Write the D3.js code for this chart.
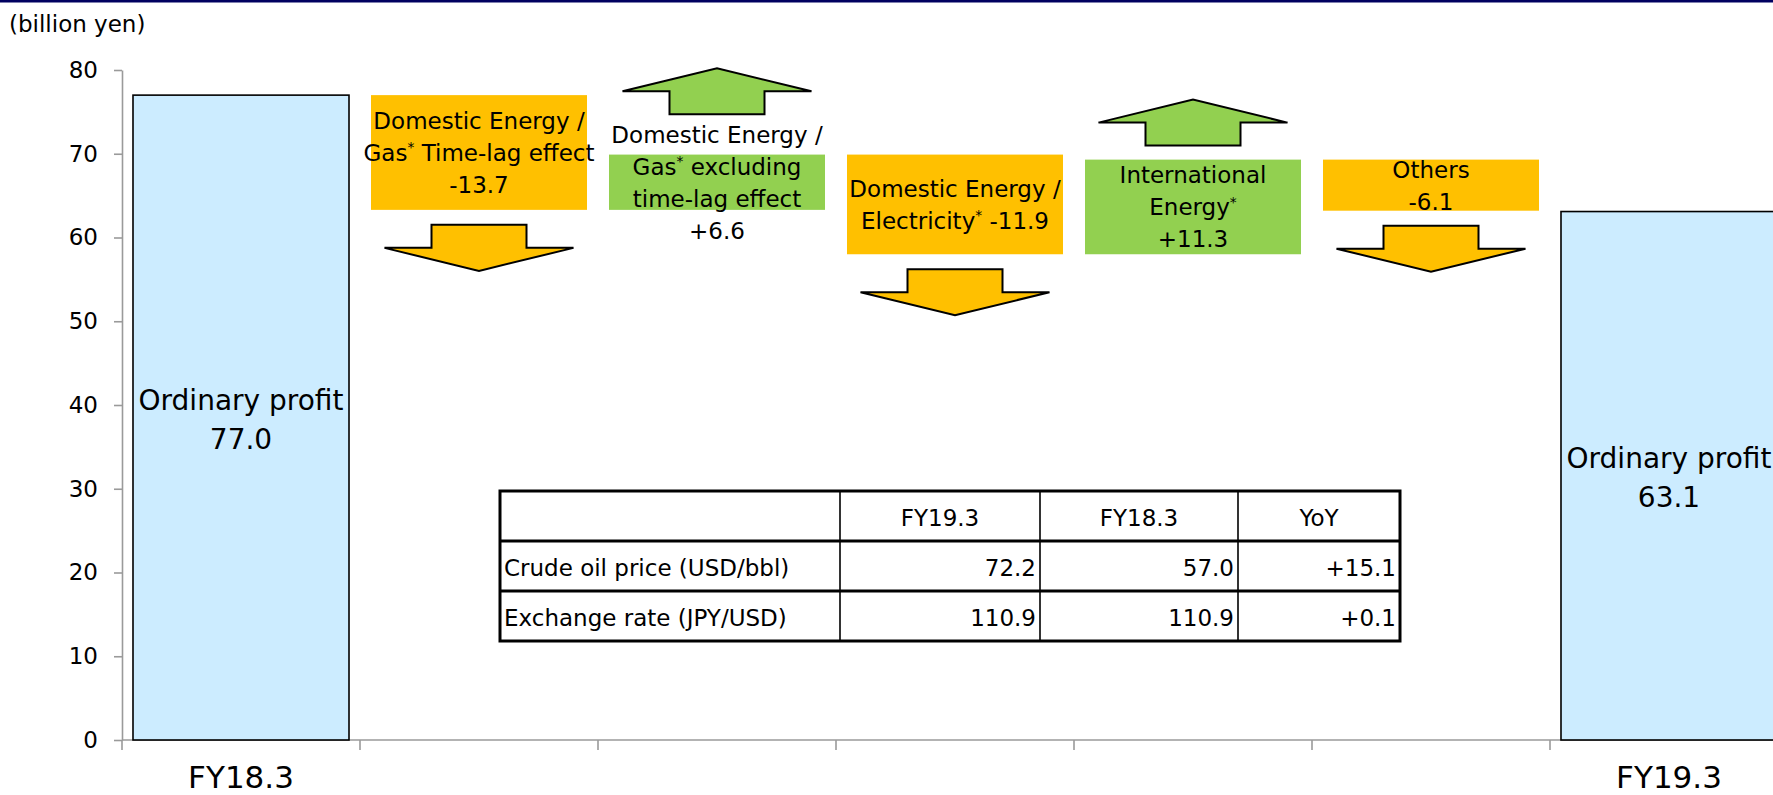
<!DOCTYPE html>
<html><head><meta charset="utf-8">
<script src="https://cdn.jsdelivr.net/npm/d3@7"></script>
<style>
html,body{margin:0;padding:0;background:#fff;}
svg{display:block;font-family:"DejaVu Sans",Verdana,sans-serif;}
</style></head>
<body>
<script>
// ---------- data ----------
const categories = ["FY18.3","gasTimeLag","gasExTimeLag","electricity","international","others","FY19.3"];
const xTickLabels = ["FY18.3","","","","","","FY19.3"];
const startValue = 77.0;
const endValue = 63.1;
const deltas = [-13.7, 6.6, -11.9, 11.3, -6.1];
const deltaLabels = [
  ["Domestic Energy /","Gas* Time-lag effect","{v}"],
  ["Domestic Energy /","Gas* excluding","time-lag effect","{v}"],
  ["Domestic Energy /","Electricity* {v}"],
  ["International","Energy*","{v}"],
  ["Others","{v}"]
];
const totalLabel = "Ordinary profit";
const yTicks = [0,10,20,30,40,50,60,70,80];
const unitLabel = "(billion yen)";
const tableHeader = ["","FY19.3","FY18.3","YoY"];
const tableRows = ["Crude oil price (USD/bbl)","Exchange rate (JPY/USD)"];
const tableFY19 = ["72.2","110.9"];
const tableFY18 = ["57.0","110.9"];
const tableYoY = ["+15.1","+0.1"];

// ---------- layout ----------
const W = 1773, H = 795;
const plotLeft = 122, step = 238, plotTop = 70, plotBottom = 740;
const colors = {total:"#CCECFF", neg:"#FFC000", pos:"#92D050", axis:"#9a9a9a"};

const svg = d3.select("body").append("svg").attr("width",W).attr("height",H);
svg.append("rect").attr("width",W).attr("height",H).attr("fill","#fff");
svg.append("rect").attr("x",0).attr("y",0).attr("width",W).attr("height",2.5).attr("fill","#000060");

const x = d3.scaleBand().domain(categories)
  .range([plotLeft, plotLeft + step*categories.length])
  .paddingInner(0.0924).paddingOuter(0.0462);
const y = d3.scaleLinear().domain([0,80]).range([plotBottom, plotTop]);

const fmt = v => (v>0?"+":"-") + Math.abs(v).toFixed(1);

// waterfall records
const recs = [];
recs.push({cat:categories[0], y0:0, y1:startValue, type:"total", lines:[totalLabel, startValue.toFixed(1)]});
let cum = startValue;
deltas.forEach((d,i)=>{
  const a = cum, b = cum + d;
  recs.push({cat:categories[i+1], y0:Math.min(a,b), y1:Math.max(a,b), type:d<0?"neg":"pos", delta:d,
    lines:deltaLabels[i].map(s=>s.replace("{v}", fmt(d)))});
  cum = b;
});
recs.push({cat:categories[6], y0:0, y1:endValue, type:"total", lines:[totalLabel, endValue.toFixed(1)]});

// ---------- axes ----------
const yAxis = svg.append("g").attr("transform",`translate(${plotLeft},0)`)
  .call(d3.axisLeft(y).tickValues(yTicks).tickSize(8).tickPadding(16).tickSizeOuter(0));
yAxis.select(".domain").attr("stroke",colors.axis).attr("stroke-width",1.6);
yAxis.selectAll(".tick line").attr("stroke",colors.axis).attr("stroke-width",1.6);
yAxis.selectAll(".tick text").attr("font-size",23).attr("fill","#000").attr("font-family","DejaVu Sans");

const xAxis = svg.append("g").attr("transform",`translate(0,${plotBottom})`)
  .call(d3.axisBottom(x).tickSize(0).tickFormat((d,i)=>xTickLabels[i]));
xAxis.select(".domain").remove();
xAxis.selectAll(".tick text").attr("font-size",31).attr("fill","#000").attr("font-family","DejaVu Sans")
  .attr("dy",0).attr("y",48);
svg.append("line").attr("x1",plotLeft).attr("x2",W).attr("y1",plotBottom).attr("y2",plotBottom)
  .attr("stroke",colors.axis).attr("stroke-width",1.6);
const bounds = d3.range(categories.length+1).map(i => x(categories[0]) - x.step()*x.paddingOuter() + i*x.step());
svg.selectAll("line.xb").data(bounds).join("line").attr("class","xb")
  .attr("x1",d=>d).attr("x2",d=>d).attr("y1",plotBottom).attr("y2",plotBottom+10)
  .attr("stroke",colors.axis).attr("stroke-width",1.6);

svg.append("text").attr("x",9).attr("y",32).attr("font-size",23).text(unitLabel);

// ---------- bars ----------
svg.selectAll("rect.bar").data(recs).join("rect").attr("class","bar")
  .attr("x",d=>x(d.cat)).attr("width",x.bandwidth())
  .attr("y",d=>y(d.y1)).attr("height",d=>y(d.y0)-y(d.y1))
  .attr("fill",d=>colors[d.type])
  .attr("stroke",d=>d.type==="total"?"#000":"none").attr("stroke-width",1.6);

// ---------- labels ----------
function addLine(t, s, fs){
  const parts = s.split("*");
  parts.forEach((p,k)=>{
    if(k>0){
      t.append("tspan").attr("font-size",fs*0.6).attr("dy",-fs*0.38).text("*");
      t.append("tspan").attr("dy",fs*0.38).text(p);
    } else t.append("tspan").text(p);
  });
}
const lineH = 32, fsBox = 23, fsTot = 28, lineHTot = 39;
recs.forEach(r=>{
  const cx = x(r.cat) + x.bandwidth()/2;
  const cy = (y(r.y0)+y(r.y1))/2 + (r.type==="total"?2:0);
  const tot = r.type==="total";
  const fs = tot?fsTot:fsBox, lh = tot?lineHTot:lineH;
  const n = r.lines.length;
  r.lineCenters = r.lines.map((s,i)=> cy + (i-(n-1)/2)*lh);
  r.lines.forEach((s,i)=>{
    const t = svg.append("text").attr("x",cx).attr("y",r.lineCenters[i] + fs*0.365)
      .attr("text-anchor","middle").attr("font-size",fs).attr("fill","#000");
    addLine(t,s,fs);
  });
});

// ---------- arrows ----------
const headW = 189, stemW = 95, stemL = 23, headL = 23, gap = 15;
recs.filter(r=>r.type!=="total").forEach(r=>{
  const cx = x(r.cat) + x.bandwidth()/2;
  let pts;
  if(r.type==="neg"){
    const top = Math.max(y(r.y0), r.lineCenters[r.lineCenters.length-1]+6) + gap;
    pts = [[cx-stemW/2,top],[cx+stemW/2,top],[cx+stemW/2,top+stemL],[cx+headW/2,top+stemL],
           [cx,top+stemL+headL],[cx-headW/2,top+stemL],[cx-stemW/2,top+stemL]];
  } else {
    const bot = Math.min(y(r.y1), r.lineCenters[0]-6) - 14;
    pts = [[cx-stemW/2,bot],[cx+stemW/2,bot],[cx+stemW/2,bot-stemL],[cx+headW/2,bot-stemL],
           [cx,bot-stemL-headL],[cx-headW/2,bot-stemL],[cx-stemW/2,bot-stemL]];
  }
  svg.append("path").attr("d", d3.line()(pts)+"Z")
    .attr("fill",colors[r.type]).attr("stroke","#000").attr("stroke-width",2).attr("stroke-linejoin","miter");
});

// ---------- table ----------
const tLeft = 500, tTop = 491, colW = [340,200,198,162], rowH = 50;
const colX = [tLeft]; colW.forEach(w=>colX.push(colX[colX.length-1]+w));
const tRight = colX[colX.length-1];
const nRows = tableRows.length + 1;
const tBottom = tTop + nRows*rowH;
const tg = svg.append("g");
tg.append("rect").attr("x",tLeft).attr("y",tTop).attr("width",tRight-tLeft).attr("height",tBottom-tTop).attr("fill","#fff");
d3.range(1,nRows).forEach(i=>tg.append("line").attr("x1",tLeft).attr("x2",tRight)
  .attr("y1",tTop+i*rowH).attr("y2",tTop+i*rowH).attr("stroke","#000").attr("stroke-width",3));
colX.slice(1,-1).forEach(cx=>tg.append("line").attr("x1",cx).attr("x2",cx).attr("y1",tTop).attr("y2",tBottom)
  .attr("stroke","#000").attr("stroke-width",1.6));
tg.append("rect").attr("x",tLeft).attr("y",tTop).attr("width",tRight-tLeft).attr("height",tBottom-tTop)
  .attr("fill","none").attr("stroke","#000").attr("stroke-width",3);
const tfs = 23;
tableHeader.forEach((h,j)=>{
  if(!h) return;
  tg.append("text").attr("x",(colX[j]+colX[j+1])/2).attr("y",tTop+rowH/2+tfs*0.365+2)
    .attr("text-anchor","middle").attr("font-size",tfs).text(h);
});
tableRows.forEach((lab,i)=>{
  const cy = tTop + (i+1.5)*rowH + tfs*0.365 + 2;
  tg.append("text").attr("x",colX[0]+4).attr("y",cy).attr("font-size",tfs).text(lab);
  [tableFY19[i],tableFY18[i],tableYoY[i]].forEach((v,j)=>{
    tg.append("text").attr("x",colX[j+2]-4).attr("y",cy).attr("text-anchor","end").attr("font-size",tfs).text(v);
  });
});
</script>
</body></html>
